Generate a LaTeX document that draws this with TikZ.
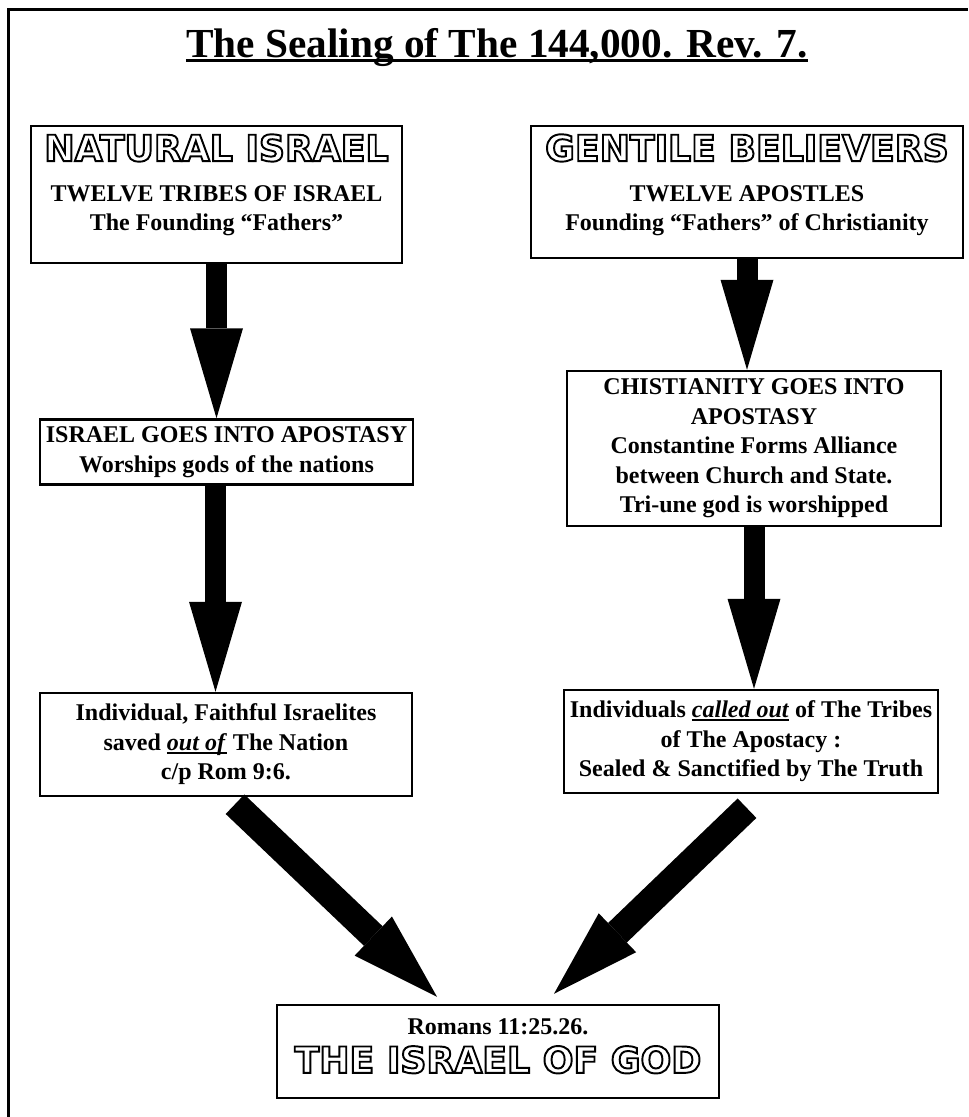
\documentclass[tikz,border=0pt]{standalone}
\usepackage{fontspec}
\usetikzlibrary{arrows.meta}

\setmainfont{Liberation Serif}
\newfontfamily\hollowfont{DejaVu Sans}
% hollow capitals: glyphs stroked, not filled
\newcommand{\hollow}[1]{{\hollowfont\bfseries\fontsize{20.6pt}{24pt}\selectfont
	\special{pdf:literal direct 0 G 1.1 w 1 Tr}#1\special{pdf:literal direct 0 Tr}}}
\newcommand{\uln}[1]{\setbox0\hbox{#1}\rlap{\rule[-0.07cm]{\wd0}{0.04cm}}\box0{}}

\begin{document}
\begin{tikzpicture}[
	box/.style={draw,line width=1.4pt,align=center,inner sep=0pt,
		font=\bfseries\fontsize{13.66pt}{16.8pt}\selectfont},
	downarrow/.style={line width=0.42cm,
		-{Triangle[length=1.8cm,width=1.06cm,line width=0pt]}},
	slantarrow/.style={line width=0.54cm,
		-{Triangle[length=1.76cm,width=1.08cm,line width=0pt]}}]

\useasboundingbox (0,0) rectangle (19.36,22.34);
\fill[white] (0,0) rectangle (19.36,22.34);

\draw[line width=0.06cm] (0.16,0)--(0.16,22.14)--(19.36,22.14);

\node[font=\bfseries\fontsize{23.5pt}{28pt}\selectfont,inner sep=0pt,anchor=base]
	(title) at (9.94,21.18) {The Sealing of The 144,000. Rev. 7.};
\draw[line width=0.06cm] ([yshift=-0.06cm]title.base west)--([yshift=-0.06cm]title.base east);

\node[box,minimum width=7.42cm,minimum height=2.74cm] (natural) at (4.33,18.45)
	{\hollow{NATURAL ISRAEL}\\[6pt]
	TWELVE TRIBES OF ISRAEL\\
	The Founding “Fathers”\rule[-0.48cm]{0pt}{0pt}};

\node[box,minimum width=8.64cm,minimum height=2.64cm] (gentile) at (14.94,18.5)
	{\hollow{GENTILE BELIEVERS}\\[6pt]
	TWELVE APOSTLES\\
	Founding “Fathers” of Christianity\rule[-0.38cm]{0pt}{0pt}};

\node[box,minimum width=7.46cm,minimum height=1.3cm] (apostasy) at (4.53,13.3)
	{ISRAEL GOES INTO APOSTASY\\
	Worships gods of the nations};

\node[box,minimum width=7.48cm,minimum height=3.1cm] (church) at (15.08,13.37)
	{CHISTIANITY GOES INTO\\
	APOSTASY\\
	Constantine Forms Alliance\\
	between Church and State.\\
	Tri-une god is worshipped};

\node[box,minimum width=7.44cm,minimum height=2.06cm] (faithful) at (4.52,7.45)
	{Individual, Faithful Israelites\\
	saved \uln{\textit{out of}} The Nation\\
	c/p Rom 9:6.};

\node[box,minimum width=7.48cm,minimum height=2.06cm] (called) at (15.02,7.51)
	{Individuals \uln{\textit{called out}} of The Tribes\\
	of The Apostacy :\\
	Sealed \& Sanctified by The Truth};

\node[box,minimum width=8.84cm,minimum height=1.86cm] (god) at (9.96,1.31)
	{Romans 11:25.26.\\[4.8pt]
	\hollow{THE ISRAEL OF GOD}\rule[-0.22cm]{0pt}{0pt}};

\draw[downarrow] (natural.south)--(natural.south |- apostasy.north);
\draw[downarrow] ([xshift=-0.22cm]apostasy.south)--([xshift=-0.22cm]apostasy.south |- faithful.north);
\draw[downarrow] (gentile.south)--(gentile.south |- church.north);
\draw[downarrow] (church.south)--(church.south |- called.north);

\draw[slantarrow] ([shift={(0.18,-0.14)}]faithful.south)--([shift={(-1.22,0.14)}]god.north);
\draw[slantarrow] ([shift={(-0.08,-0.28)}]called.south)--([shift={(1.12,0.2)}]god.north);

\end{tikzpicture}
\end{document}
